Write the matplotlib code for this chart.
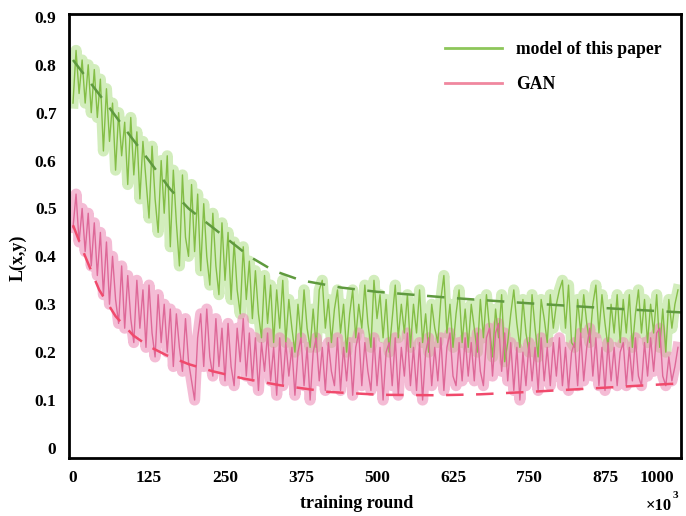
import numpy as np
import matplotlib
matplotlib.use("Agg")
from matplotlib import pyplot as plt
from matplotlib.lines import Line2D

model_loss = [
    0.72, 0.83, 0.74, 0.81, 0.72, 0.80, 0.70, 0.79, 0.69, 0.77,
    0.62, 0.75, 0.64, 0.72, 0.58, 0.70, 0.61, 0.68, 0.55, 0.69,
    0.57, 0.66, 0.52, 0.64, 0.56, 0.48, 0.63, 0.52, 0.45, 0.60,
    0.49, 0.61, 0.42, 0.58, 0.47, 0.38, 0.57, 0.44, 0.40, 0.55,
    0.41, 0.53, 0.37, 0.51, 0.40, 0.34, 0.49, 0.38, 0.32, 0.47,
    0.35, 0.45, 0.31, 0.43, 0.33, 0.28, 0.42, 0.31, 0.39, 0.27,
    0.37, 0.28, 0.23, 0.36, 0.26, 0.34, 0.22, 0.33, 0.25, 0.35,
    0.22, 0.31, 0.25, 0.20, 0.30, 0.23, 0.33, 0.25, 0.21, 0.29,
    0.21, 0.33, 0.35, 0.25, 0.31, 0.22, 0.29, 0.33, 0.24, 0.30,
    0.20, 0.28, 0.33, 0.23, 0.30, 0.25, 0.34, 0.26, 0.21, 0.35,
    0.27, 0.32, 0.23, 0.31, 0.20, 0.27, 0.34, 0.23, 0.30, 0.24,
    0.32, 0.21, 0.30, 0.24, 0.33, 0.22, 0.28, 0.20, 0.30, 0.25,
    0.22, 0.31, 0.36, 0.24, 0.30, 0.21, 0.28, 0.33, 0.22, 0.29,
    0.21, 0.30, 0.25, 0.20, 0.31, 0.23, 0.32, 0.25, 0.19, 0.29,
    0.23, 0.32, 0.18, 0.22, 0.28, 0.33, 0.26, 0.21, 0.31, 0.24,
    0.20, 0.32, 0.25, 0.19, 0.31, 0.27, 0.22, 0.32, 0.25, 0.30,
    0.33, 0.35, 0.25, 0.34, 0.22, 0.21, 0.31, 0.24, 0.32, 0.26,
    0.22, 0.30, 0.34, 0.24, 0.32, 0.26, 0.21, 0.30, 0.24, 0.32,
    0.22, 0.31, 0.24, 0.32, 0.21, 0.28, 0.33, 0.24, 0.31, 0.22,
    0.30, 0.24, 0.32, 0.21, 0.29, 0.20, 0.31, 0.25, 0.30, 0.33,
]
gan_loss = [
    0.46, 0.53, 0.43, 0.50, 0.41, 0.49, 0.38, 0.47, 0.36, 0.45,
    0.32, 0.43, 0.30, 0.40, 0.31, 0.26, 0.38, 0.25, 0.36, 0.27,
    0.22, 0.35, 0.25, 0.33, 0.21, 0.34, 0.24, 0.19, 0.32, 0.22,
    0.30, 0.20, 0.29, 0.17, 0.28, 0.21, 0.16, 0.27, 0.18, 0.14,
    0.10, 0.23, 0.28, 0.17, 0.29, 0.19, 0.15, 0.27, 0.17, 0.25,
    0.14, 0.26, 0.17, 0.13, 0.25, 0.18, 0.27, 0.15, 0.24, 0.14,
    0.23, 0.12, 0.22, 0.16, 0.24, 0.14, 0.21, 0.11, 0.23, 0.13,
    0.22, 0.15, 0.21, 0.11, 0.20, 0.23, 0.13, 0.21, 0.10, 0.20,
    0.23, 0.14, 0.21, 0.12, 0.22, 0.16, 0.13, 0.23, 0.12, 0.21,
    0.14, 0.22, 0.11, 0.21, 0.24, 0.13, 0.22, 0.16, 0.12, 0.23,
    0.13, 0.21, 0.10, 0.20, 0.22, 0.13, 0.23, 0.11, 0.21, 0.15,
    0.24, 0.13, 0.21, 0.12, 0.22, 0.10, 0.20, 0.23, 0.13, 0.21,
    0.14, 0.23, 0.12, 0.21, 0.24, 0.15, 0.13, 0.22, 0.14, 0.23,
    0.15, 0.22, 0.14, 0.24, 0.16, 0.13, 0.23, 0.25, 0.15, 0.24,
    0.26, 0.16, 0.24, 0.14, 0.22, 0.12, 0.21, 0.10, 0.20, 0.13,
    0.22, 0.14, 0.21, 0.12, 0.23, 0.14, 0.21, 0.13, 0.22, 0.15,
    0.23, 0.13, 0.21, 0.12, 0.20, 0.22, 0.13, 0.24, 0.14, 0.21,
    0.25, 0.15, 0.23, 0.13, 0.21, 0.12, 0.22, 0.14, 0.21, 0.13,
    0.20, 0.22, 0.13, 0.21, 0.14, 0.23, 0.15, 0.13, 0.22, 0.15,
    0.23, 0.16, 0.24, 0.25, 0.15, 0.13, 0.19, 0.14, 0.17, 0.21,
]
rounds = np.arange(len(model_loss)) * 5

# dashed trend curves
model_trend_x = [0, 30, 60, 95, 125, 160, 190, 220, 250, 290, 330, 375, 440, 500, 625, 750, 875, 1000]
model_trend_y = [0.81, 0.76, 0.71, 0.65, 0.60, 0.54, 0.50, 0.47, 0.44, 0.40, 0.37, 0.35, 0.335, 0.326, 0.313, 0.302, 0.292, 0.283]
gan_trend_x = [0, 20, 43, 70, 99, 125, 153, 190, 230, 280, 340, 420, 505, 600, 670, 750, 850, 1000]
gan_trend_y = [0.465, 0.40, 0.33, 0.275, 0.235, 0.212, 0.194, 0.175, 0.160, 0.145, 0.131, 0.117, 0.111, 0.110, 0.112, 0.117, 0.124, 0.135]

xtick_pos = [0, 125, 250, 375, 500, 625, 750, 875, 960]
xtick_labels = ['0', '125', '250', '375', '500', '625', '750', '875', '1000']
ytick_vals = [0, 0.1, 0.2, 0.3, 0.4, 0.5, 0.6, 0.7, 0.8, 0.9]
ytick_labels = ['0', '0.1', '0.2', '0.3', '0.4', '0.5', '0.6', '0.7', '0.8', '0.9']

plt.rcParams['font.family'] = ['Liberation Serif', 'DejaVu Serif']
plt.rcParams['font.weight'] = 'bold'

fig = plt.figure(figsize=(6.86, 5.16), dpi=100)
ax = fig.add_axes([69 / 686, 58 / 516, 612 / 686, 444 / 516])

# thick soft bands
ax.plot(rounds, model_loss, color='#addf85', lw=8, alpha=0.55)
ax.plot(rounds, gan_loss, color='#ec86b4', lw=8, alpha=0.55)
# thin lines
ax.plot(rounds, model_loss, color='#84be46', lw=1.0)
ax.plot(rounds, gan_loss, color='#de6898', lw=1.0)
# trends
ax.plot(model_trend_x, model_trend_y, color='#5f9a3e', lw=1.8, dashes=(7, 5))
ax.plot(gan_trend_x, gan_trend_y, color='#f04a6c', lw=1.8, dashes=(7, 5))

ax.set_xlim(-6.6, 1000)
ax.set_ylim(-0.021, 0.906)
ax.set_xticks(xtick_pos)
ax.set_xticklabels(xtick_labels)
ax.set_yticks(ytick_vals)
ax.set_yticklabels(ytick_labels)
ax.tick_params(length=0, labelsize=12.5, pad=9)
for s in ax.spines.values():
    s.set_linewidth(2)

fig.text(357 / 686, 1 - 503 / 516, 'training round', ha='center', va='center',
         fontsize=13, fontweight='bold')
fig.text(18 / 686, 0.5, 'L(x,y)', ha='center', va='center', rotation=90,
         fontsize=13, fontweight='bold')
fig.text(672 / 686, 1 - 506 / 516, '×10', ha='right', va='center',
         fontsize=12, fontweight='bold')
fig.text(673 / 686, 1 - 495 / 516, '3', ha='left', va='center',
         fontsize=8, fontweight='bold')

handles = [Line2D([], [], color='#8dc65a', lw=2),
           Line2D([], [], color='#f0879f', lw=2)]
ax.legend(handles, ['model of this paper', 'GAN'], loc='upper left',
          bbox_to_anchor=(440 / 686, 1 - 36 / 516), bbox_transform=fig.transFigure,
          frameon=False, fontsize=12.7, handlelength=3.2, handletextpad=0.8,
          labelspacing=1.0, borderaxespad=0, borderpad=0.3)

fig.savefig('out.png', dpi=100)
